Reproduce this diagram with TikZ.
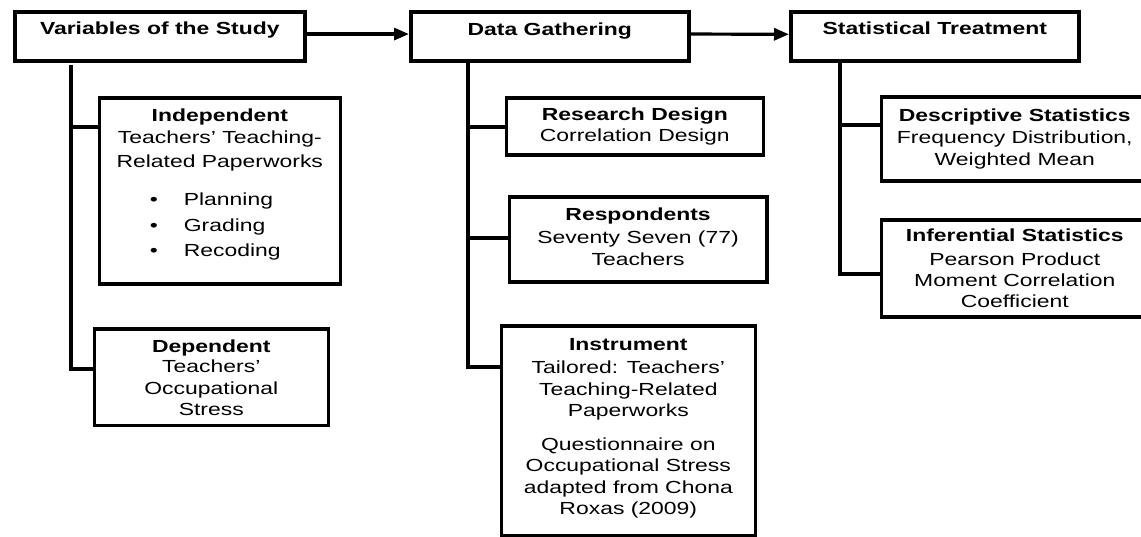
\documentclass[tikz,border=0pt]{standalone}
\usepackage{fontspec}
\setmainfont{Liberation Sans}[FakeStretch=1.31]
\usetikzlibrary{arrows.meta}
\newcommand{\bxtext}[4]{\parbox[t][#2pt][t]{#1pt}{\centering\rule{0pt}{#3pt}#4}}
\newcommand{\bulln}[1]{\makebox[140pt][l]{\makebox[34pt][l]{\textbullet}#1}}
\tikzset{
  stagebox/.style={draw, line width=3.6pt, inner sep=0pt, anchor=north west},
  link/.style={line width=3.3pt},
  flow/.style={line width=3.2pt, -{Triangle[length=15pt,width=12pt]}},
}
\begin{document}
\begin{tikzpicture}[x=1pt, y=-1pt, font=\fontsize{17.5}{21.5}\selectfont]
\useasboundingbox (0,0) rectangle (1141,537);
\clip (0,0) rectangle (1141,537);
% top row
\node[stagebox] (vars) at (13,10.5) {\bxtext{290}{48.5}{22.5}{\textbf{Variables of the Study}}};
\node[stagebox] (data) at (409,10.5) {\bxtext{278}{48.5}{23}{\textbf{Data Gathering}}};
\node[stagebox] (stat) at (789,10.5) {\bxtext{288}{49}{22.5}{\textbf{Statistical Treatment}}};
\draw[flow] ([yshift=2.5pt]vars.east) -- ([yshift=2.5pt]data.west);
\draw[flow] ([yshift=2.5pt]data.east) -- ([yshift=2.5pt]stat.west);
% left column
\node[stagebox] (ind) at (97.5,96.5) {\bxtext{241}{186}{22.8}{\textbf{Independent}\\[1pt]
  Teachers' Teaching-\\[2pt] Related Paperworks\\[17pt]
  \bulln{Planning}\\[4pt] \bulln{Grading}\\[4pt] \bulln{Recoding}}};
\node[stagebox] (dep) at (92.5,327.5) {\bxtext{234}{96}{23.2}{\textbf{Dependent}\\[-1pt]
  Teachers'\\ Occupational\\[-1pt] Stress}};
\coordinate (vt) at (71,65);
\coordinate (vj1) at (71,127);
\coordinate (vj2) at (71,369);
\draw[link] (vt) -- (vj2) -- (vj2 -| dep.west);
\draw[link] (vj1) -- (vj1 -| ind.west);
% middle column
\node[stagebox] (rdes) at (504.5,96.5) {\bxtext{257}{57}{21.8}{\textbf{Research Design}\\ Correlation Design}};
\node[stagebox] (resp) at (507.5,195.5) {\bxtext{257.5}{85}{22.8}{\textbf{Respondents}\\[1.5pt] Seventy Seven (77)\\[1pt] Teachers}};
\node[stagebox] (instr) at (499.5,324.5) {\bxtext{254}{209}{23.8}{\textbf{Instrument}\\[2pt]
  Tailored: Teachers'\\ Teaching-Related\\ Paperworks\\[12pt]
  Questionnaire on\\ Occupational Stress\\ adapted from Chona\\ Roxas (2009)}};
\coordinate (dj1) at (468,127);
\coordinate (dj2) at (468,238);
\coordinate (dj3) at (468,367);
\draw[link] (data.south -| dj1) -- (dj3) -- (dj3 -| instr.west);
\draw[link] (dj1) -- (dj1 -| rdes.west);
\draw[link] (dj2) -- (dj2 -| resp.west);
% right column
\node[stagebox] (desc) at (879.5,95.5) {\bxtext{267}{84}{23.8}{\textbf{Descriptive Statistics}\\[1pt]
  Frequency Distribution,\\ Weighted Mean}};
\node[stagebox] (infer) at (879.5,218.5) {\bxtext{267}{97}{20.8}{\textbf{Inferential Statistics}\\[2.5pt]
  Pearson Product\\ Moment Correlation\\[-0.5pt] Coefficient}};
\coordinate (sj1) at (840,125);
\coordinate (sj2) at (840,274);
\draw[link] (stat.south -| sj1) -- (sj2) -- (sj2 -| infer.west);
\draw[link] (sj1) -- (sj1 -| desc.west);
\end{tikzpicture}
\end{document}
